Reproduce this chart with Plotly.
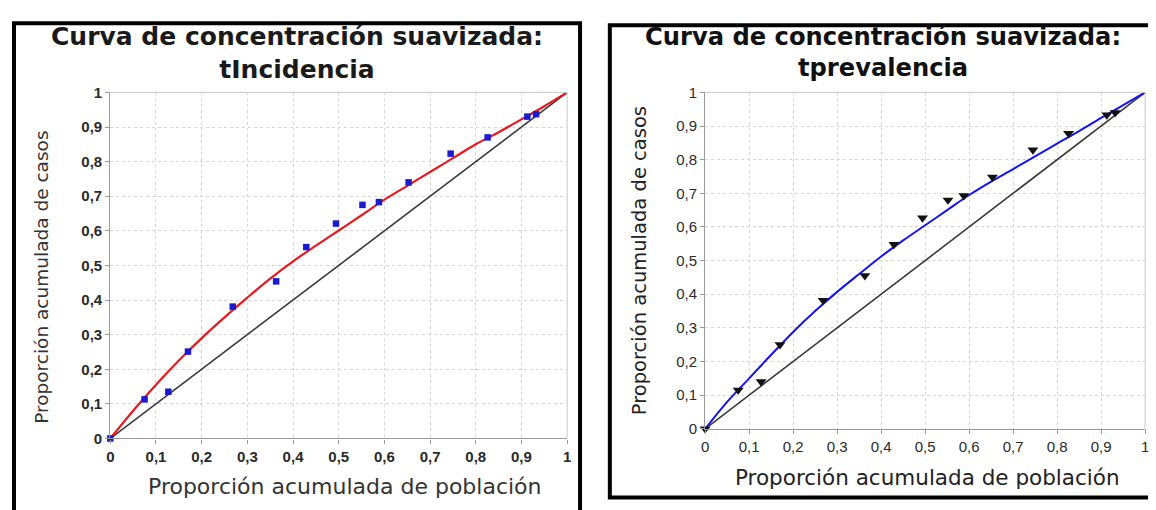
import plotly.graph_objects as go

# ---------------- data ----------------
# observed points (cumulative population share, cumulative case share)
pop_share = [0.0, 0.075, 0.127, 0.170, 0.268, 0.363, 0.429, 0.494, 0.552, 0.588, 0.653, 0.745, 0.826, 0.913, 0.932]
inc_cases = [0.0, 0.113, 0.135, 0.251, 0.381, 0.454, 0.553, 0.621, 0.675, 0.683, 0.740, 0.823, 0.870, 0.930, 0.937]
prev_cases = [0.0, 0.115, 0.140, 0.250, 0.382, 0.455, 0.548, 0.627, 0.680, 0.693, 0.748, 0.829, 0.878, 0.933, 0.940]

# smoothed concentration curves
curve_x = [0.0, 0.05, 0.10, 0.15, 0.20, 0.25, 0.30, 0.35, 0.40, 0.45, 0.50,
           0.55, 0.60, 0.65, 0.70, 0.75, 0.80, 0.85, 0.90, 0.95, 1.0]
inc_smooth = [0.0, 0.080, 0.155, 0.225, 0.290, 0.350, 0.407, 0.462, 0.512, 0.557, 0.601,
              0.645, 0.690, 0.730, 0.770, 0.810, 0.850, 0.885, 0.922, 0.960, 1.0]
prev_smooth = [0.0, 0.080, 0.150, 0.220, 0.288, 0.350, 0.407, 0.460, 0.512, 0.560, 0.605,
               0.650, 0.695, 0.735, 0.772, 0.810, 0.848, 0.885, 0.924, 0.962, 1.0]

# line of equality
diag_x = [0, 1]
diag_y = [0, 1]

tick_vals = [0, 0.1, 0.2, 0.3, 0.4, 0.5, 0.6, 0.7, 0.8, 0.9, 1]

title_main = "Curva de concentración suavizada:"
titles = ["tIncidencia", "tprevalencia"]
x_title = "Proporción acumulada de población"
y_title = "Proporción acumulada de casos"

# ---------------- figure ----------------
W, H = 1156, 510
OFF = 8  # page body margin offset


def px(p):
    return (p - OFF) / W


def py(p):
    return 1 - (p - OFF) / H


fig = go.Figure()

# left panel
fig.add_trace(go.Scatter(x=diag_x, y=diag_y, mode="lines",
                         line=dict(color="#3a3a3a", width=1.6),
                         xaxis="x", yaxis="y", showlegend=False, hoverinfo="skip"))
fig.add_trace(go.Scatter(x=curve_x, y=inc_smooth, mode="lines",
                         line=dict(color="#e61a1e", width=2.2, shape="spline"),
                         xaxis="x", yaxis="y", showlegend=False))
fig.add_trace(go.Scatter(x=pop_share, y=inc_cases, mode="markers",
                         marker=dict(symbol="square", size=6.5, color="#1a1ad0"),
                         xaxis="x", yaxis="y", showlegend=False, cliponaxis=False))

# right panel
fig.add_trace(go.Scatter(x=diag_x, y=diag_y, mode="lines",
                         line=dict(color="#3a3a3a", width=1.6),
                         xaxis="x2", yaxis="y2", showlegend=False, hoverinfo="skip"))
fig.add_trace(go.Scatter(x=curve_x, y=prev_smooth, mode="lines",
                         line=dict(color="#1414f0", width=2.0, shape="spline"),
                         xaxis="x2", yaxis="y2", showlegend=False))
fig.add_trace(go.Scatter(x=pop_share, y=prev_cases, mode="markers",
                         marker=dict(symbol="triangle-down", size=9.5, color="#111111"),
                         xaxis="x2", yaxis="y2", showlegend=False, cliponaxis=False))


def ax_style(domain, bold, size, anchor):
    return dict(
        domain=domain, range=[0, 1], anchor=anchor,
        tickmode="array", tickvals=tick_vals,
        showgrid=True, gridcolor="#d6d6d6", griddash="3px,3px", gridwidth=1,
        zeroline=False, showline=True, linecolor="#9a9a9a", linewidth=1.2,
        mirror=False, ticks="outside", ticklen=4, tickcolor="#9a9a9a",
        tickfont=dict(family="Liberation Sans", size=size, color="#2a2a2a",
                      weight="bold" if bold else "normal"),
        fixedrange=True,
    )


# plot areas in page pixels
L = dict(x0=107, x1=567, ytop=86, ybot=444)
R = dict(x0=706, x1=1149, ytop=86, ybot=434)

fig.update_layout(
    width=W, height=H,
    margin=dict(l=0, r=0, t=0, b=0),
    paper_bgcolor="white", plot_bgcolor="white",
    separators=", ",
    xaxis=ax_style([px(L["x0"]), px(L["x1"])], True, 15, "y"),
    yaxis=ax_style([py(L["ybot"]), py(L["ytop"])], True, 15, "x"),
    xaxis2=ax_style([px(R["x0"]), px(R["x1"])], False, 15, "y2"),
    yaxis2=ax_style([py(R["ybot"]), py(R["ytop"])], False, 15, "x2"),
)

# frame lines at top / right of each plot (light)
for xr, yr in (("x", "y"), ("x2", "y2")):
    fig.add_shape(type="line", xref=f"{xr} domain", yref=f"{yr} domain",
                  x0=0, x1=1, y0=1, y1=1, line=dict(color="#c8c8c8", width=1))
    fig.add_shape(type="line", xref=f"{xr} domain", yref=f"{yr} domain",
                  x0=1, x1=1, y0=0, y1=1, line=dict(color="#c8c8c8", width=1))

# panel borders
fig.add_shape(type="rect", xref="paper", yref="paper",
              x0=px(10), x1=px(580), y0=-0.2, y1=py(14.5),
              line=dict(color="black", width=4), layer="above")
fig.add_shape(type="rect", xref="paper", yref="paper",
              x0=px(610), x1=1.2, y0=py(505), y1=py(16.5),
              line=dict(color="black", width=4), layer="above")

# titles
fig.add_annotation(text=f"{title_main}<br>{titles[0]}", xref="paper", yref="paper",
                   x=px(295), y=py(45), xanchor="center", yanchor="middle",
                   showarrow=False, align="center",
                   font=dict(family="DejaVu Sans", size=25, color="#1a1a1a", weight="bold"))
fig.add_annotation(text=f"{title_main}<br>{titles[1]}", xref="paper", yref="paper",
                   x=px(885), y=py(45), xanchor="center", yanchor="middle",
                   showarrow=False, align="center",
                   font=dict(family="DejaVu Sans", size=24.2, color="#111111", weight="bold"))

# axis titles
fig.add_annotation(text=x_title, xref="paper", yref="paper",
                   x=px(343), y=py(494), xanchor="center", yanchor="middle",
                   showarrow=False, font=dict(family="DejaVu Sans", size=22, color="#333333"))
fig.add_annotation(text=y_title, xref="paper", yref="paper",
                   x=px(37), y=py(277), xanchor="center", yanchor="middle",
                   textangle=-90, showarrow=False,
                   font=dict(family="DejaVu Sans", size=18.5, color="#333333"))
fig.add_annotation(text=x_title, xref="paper", yref="paper",
                   x=px(930), y=py(484), xanchor="center", yanchor="middle",
                   showarrow=False, font=dict(family="DejaVu Sans", size=21.5, color="#222222"))
fig.add_annotation(text=y_title, xref="paper", yref="paper",
                   x=px(640), y=py(260), xanchor="center", yanchor="middle",
                   textangle=-90, showarrow=False,
                   font=dict(family="DejaVu Sans", size=19.5, color="#222222"))

fig.write_html("out.html")
